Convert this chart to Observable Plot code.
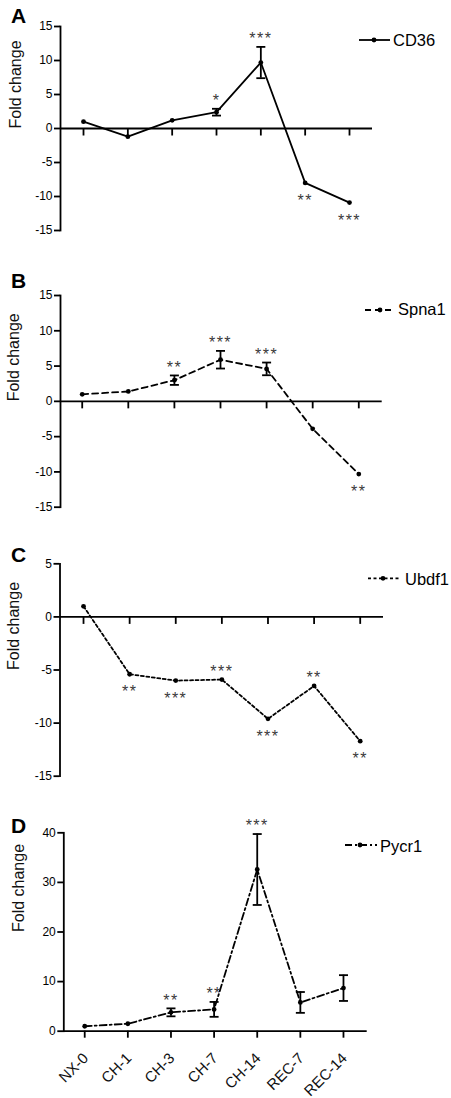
<!DOCTYPE html>
<html>
<head>
<meta charset="utf-8">
<script src="https://cdn.jsdelivr.net/npm/d3@7"></script>
<script src="https://cdn.jsdelivr.net/npm/@observablehq/plot@0.6"></script>
<style>
  html, body { margin: 0; padding: 0; background: #fff; }
  #root { position: relative; width: 451px; height: 1098px; overflow: hidden; font-family: "Liberation Sans", Arial, sans-serif; }
  .panel { position: absolute; left: 0; }
  #overlay { position: absolute; left: 0; top: 0; pointer-events: none; }
</style>
</head>
<body>
<div id="root"></div>
<script>
// ---------- data ----------
const categories = ["NX-0", "CH-1", "CH-3", "CH-7", "CH-14", "REC-7", "REC-14"];

const cd36Values  = [1.0, -1.2, 1.2, 2.4, 9.7, -8.0, -10.9];
const cd36Errors  = [0, 0, 0, 0.5, 2.3, 0, 0];
const cd36Stars   = ["", "", "", "*", "***", "**", "***"];
const cd36Sides   = ["", "", "", "above", "above", "below", "below"];

const spna1Values = [1.0, 1.4, 3.0, 5.9, 4.6, -3.9, -10.3];
const spna1Errors = [0, 0, 0.67, 1.25, 0.9, 0, 0];
const spna1Stars  = ["", "", "**", "***", "***", "", "**"];
const spna1Sides  = ["", "", "above", "above", "above", "", "below"];

const ubdf1Values = [1.0, -5.4, -6.0, -5.9, -9.6, -6.5, -11.7];
const ubdf1Errors = [0, 0, 0, 0, 0, 0, 0];
const ubdf1Stars  = ["", "**", "***", "***", "***", "**", "**"];
const ubdf1Sides  = ["", "below", "below", "above", "below", "above", "below"];

const pycr1Values = [1.0, 1.5, 3.8, 4.4, 32.6, 5.8, 8.7];
const pycr1Errors = [0, 0, 0.8, 1.5, 7.15, 2.1, 2.6];
const pycr1Stars  = ["", "", "**", "**", "***", "", ""];
const pycr1Sides  = ["", "", "above", "above", "above", "", ""];

const ticksAB = [-15, -10, -5, 0, 5, 10, 15];
const ticksC  = [-15, -10, -5, 0, 5];
const ticksD  = [0, 10, 20, 30, 40];

const geneNames = ["CD36", "Spna1", "Ubdf1", "Pycr1"];
const panelLetters = ["A", "B", "C", "D"];

// ---------- helpers ----------
const FONT = "'Liberation Sans', Arial, Helvetica, sans-serif";
const SW = 1.8;
const capSymbol = { draw(ctx) { ctx.moveTo(-4.5, 0); ctx.lineTo(4.5, 0); } };
const tickDownSymbol = { draw(ctx) { ctx.moveTo(0, 0); ctx.lineTo(0, 7); } };
const dashes = ["none", "6,4", "3,2.5", "7,3,2,3"];

function panel(cfg) {
  const rows = categories.map((c, i) => ({
    i, cat: c, v: cfg.values[i], e: cfg.errors[i], star: cfg.stars[i], side: cfg.sides[i]
  }));
  const errRows = rows.filter(d => d.e > 0);
  const caps = errRows.flatMap(d => [{ i: d.i, y: d.v - d.e }, { i: d.i, y: d.v + d.e }]);
  const starRows = rows.filter(d => d.star);
  const above = starRows.filter(d => d.side === "above");
  const below = starRows.filter(d => d.side === "below");
  const marks = [
    Plot.axisY({
      ticks: cfg.yTicks, tickSize: 6, tickPadding: 2, tickFormat: d => String(d),
      fontSize: 12, strokeWidth: SW, label: null
    }),
    Plot.frame({ anchor: "left", strokeWidth: SW }),
    Plot.ruleY([0], { strokeWidth: SW }),
    Plot.text(["Fold change"], {
      frameAnchor: "left", rotate: -90, dx: cfg.labelDx, fontSize: 16, fill: "#111"
    })
  ];
  if (cfg.bottomAxis) {
    marks.push(Plot.axisX({
      ticks: d3.range(categories.length), tickSize: 7, strokeWidth: SW, text: null, label: null
    }));
    marks.push(Plot.text(rows, {
      x: "i", frameAnchor: "bottom", text: "cat", rotate: -45, textAnchor: "end",
      fontSize: 15, dx: 4.5, dy: 28, fill: "#111"
    }));
  } else {
    marks.push(Plot.dot(rows, { x: "i", y: () => 0, symbol: tickDownSymbol, stroke: "black", fill: "none", strokeWidth: SW }));
  }
  marks.push(
    Plot.ruleX(errRows, { x: "i", y1: d => d.v - d.e, y2: d => d.v + d.e, strokeWidth: SW }),
    Plot.dot(caps, { x: "i", y: "y", symbol: capSymbol, stroke: "black", fill: "none", strokeWidth: SW }),
    Plot.line(rows, { x: "i", y: "v", strokeWidth: SW, strokeDasharray: cfg.dash }),
    Plot.dot(rows, { x: "i", y: "v", r: 2.4, fill: "black" }),
    Plot.text(above, { x: "i", y: d => d.v + d.e, text: "star", dy: -8, fontSize: 16, fill: "#3a3a3a" }),
    Plot.text(below, { x: "i", y: d => d.v - d.e, text: "star", dy: 18, fontSize: 16, fill: "#3a3a3a" })
  );
  const svg = Plot.plot({
    width: 451, height: cfg.height,
    marginLeft: cfg.m[0], marginRight: cfg.m[1], marginTop: cfg.m[2], marginBottom: cfg.m[3],
    style: { fontFamily: FONT, color: "#000", background: "transparent", overflow: "visible" },
    x: { type: "linear", domain: cfg.xDomain, axis: null },
    y: { domain: cfg.yDomain, axis: null },
    marks
  });
  d3.select(svg).selectAll("text").filter(function () { return /^\*+$/.test(this.textContent); })
    .style("letter-spacing", "1.5px");
  svg.classList.add("panel");
  svg.style.top = cfg.top + "px";
  return svg;
}

const root = document.getElementById("root");
root.appendChild(panel({
  values: cd36Values, errors: cd36Errors, stars: cd36Stars, sides: cd36Sides,
  yTicks: ticksAB, yDomain: [-15, 15], dash: dashes[0], top: 0, height: 262,
  m: [60, 79, 26, 32], xDomain: [-0.519, 6.519], labelDx: -45
}));
root.appendChild(panel({
  values: spna1Values, errors: spna1Errors, stars: spna1Stars, sides: spna1Sides,
  yTicks: ticksAB, yDomain: [-15, 15], dash: dashes[1], top: 262, height: 268,
  m: [60, 69.3, 33, 23.3], xDomain: [-0.471, 6.508], labelDx: -47
}));
root.appendChild(panel({
  values: ubdf1Values, errors: ubdf1Errors, stars: ubdf1Stars, sides: ubdf1Sides,
  yTicks: ticksC, yDomain: [-15, 5], dash: dashes[2], top: 530, height: 262,
  m: [59.5, 68, 33.3, 16.3], xDomain: [-0.51, 6.505], labelDx: -46
}));
root.appendChild(panel({
  values: pycr1Values, errors: pycr1Errors, stars: pycr1Stars, sides: pycr1Sides,
  yTicks: ticksD, yDomain: [0, 40], dash: dashes[3], top: 792, height: 306,
  m: [63.3, 84.3, 40.3, 67.3], xDomain: [-0.485, 6.55], labelDx: -45.3, bottomAxis: true
}));

// ---------- overlay: panel letters and legends ----------
const letterPos = [[11, 22.7], [11, 288], [11, 562], [11, 833]];
const legendPos = [
  { x1: 359, x2: 390, cx: 374, y: 40, tx: 393, ty: 46 },
  { x1: 365, x2: 395, cx: 380, y: 310, tx: 398, ty: 314.5 },
  { x1: 368, x2: 400, cx: 383, y: 578.3, tx: 405, ty: 585 },
  { x1: 345, x2: 377, cx: 360, y: 845, tx: 380, ty: 851.5 }
];
const ov = d3.select(root).append("svg").attr("id", "overlay").attr("width", 451).attr("height", 1098)
  .style("font-family", FONT);
panelLetters.forEach((L, k) => {
  ov.append("text").attr("x", letterPos[k][0]).attr("y", letterPos[k][1])
    .attr("font-size", 21).attr("font-weight", "bold").attr("fill", "#000").text(L);
});
geneNames.forEach((g, k) => {
  const p = legendPos[k];
  ov.append("line").attr("x1", p.x1).attr("x2", p.x2).attr("y1", p.y).attr("y2", p.y)
    .attr("stroke", "#000").attr("stroke-width", SW).attr("stroke-dasharray", dashes[k]);
  ov.append("circle").attr("cx", p.cx).attr("cy", p.y).attr("r", 2.4).attr("fill", "#000");
  ov.append("text").attr("x", p.tx).attr("y", p.ty).attr("font-size", 16.5).attr("fill", "#000").text(g);
});
</script>
</body>
</html>
